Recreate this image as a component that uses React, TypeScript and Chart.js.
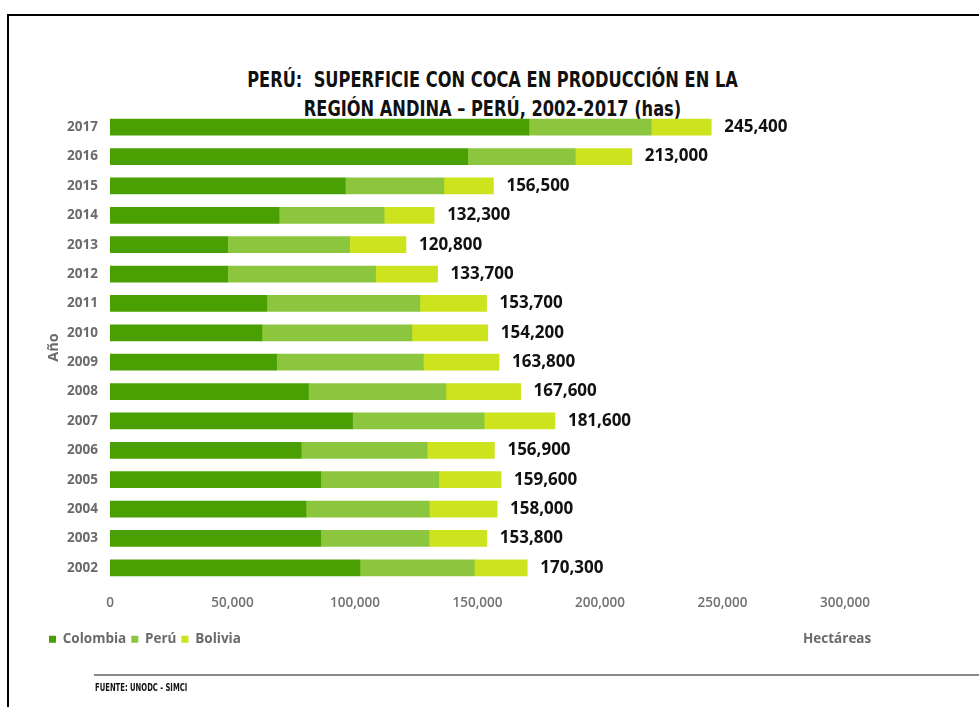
import React, { useEffect, useRef } from 'react';
import { Chart, registerables } from 'chart.js';

Chart.register(...registerables);

const years = ['2017', '2016', '2015', '2014', '2013', '2012', '2011', '2010', '2009', '2008', '2007', '2006', '2005', '2004', '2003', '2002'];
const colombia = [171000, 146000, 96000, 69000, 48000, 48000, 64000, 62000, 68000, 81000, 99000, 78000, 86000, 80000, 86000, 102000];
const peru = [49900, 43900, 40300, 42900, 49800, 60400, 62500, 61200, 59900, 56100, 53700, 51400, 48200, 50300, 44200, 46700];
const bolivia = [24500, 23100, 20200, 20400, 23000, 25300, 27200, 31000, 30900, 30500, 28900, 27500, 25400, 27700, 23600, 21600];
const totalLabels = ['245,400', '213,000', '156,500', '132,300', '120,800', '133,700', '153,700', '154,200', '163,800', '167,600', '181,600', '156,900', '159,600', '158,000', '153,800', '170,300'];
const xTicks = [0, 50000, 100000, 150000, 200000, 250000, 300000];
const seriesNames = ['Colombia', 'Perú', 'Bolivia'];
const seriesColors = ['#4aa002', '#8cc63f', '#cce31e'];

const titleLines = ['PERÚ:  SUPERFICIE CON COCA EN PRODUCCIÓN EN LA', 'REGIÓN ANDINA – PERÚ, 2002-2017 (has)'];
const xTitle = 'Hectáreas';
const yTitle = 'Año';
const sourceText = 'FUENTE: UNODC - SIMCI';

const narrow = '"Liberation Sans Narrow", "DejaVu Sans Condensed", "Arial Narrow", sans-serif';
const sans = '"Open Sans", "Noto Sans", sans-serif';

const totalsPlugin = {
  id: 'totals',
  afterDatasetsDraw(chart: any) {
    const ctx = chart.ctx;
    const meta = chart.getDatasetMeta(chart.data.datasets.length - 1);
    ctx.save();
    ctx.font = 'bold 17px ' + sans;
    ctx.fillStyle = '#111111';
    ctx.textAlign = 'left';
    ctx.textBaseline = 'middle';
    meta.data.forEach((el: any, i: number) => {
      ctx.fillText(totalLabels[i], el.x + 13, el.y);
    });
    ctx.restore();
  },
};

export default function App() {
  const canvasRef = useRef<HTMLCanvasElement | null>(null);

  useEffect(() => {
    if (!canvasRef.current) return;
    const data = [colombia, peru, bolivia];
    const chart = new Chart(canvasRef.current, {
      type: 'bar',
      data: {
        labels: years,
        datasets: seriesNames.map((name, k) => ({
          label: name,
          data: data[k],
          backgroundColor: seriesColors[k],
          borderWidth: 0,
          barThickness: 16,
        })),
      },
      options: {
        indexAxis: 'y',
        animation: false,
        responsive: false,
        maintainAspectRatio: false,
        layout: { padding: { left: 44, right: 134, top: 112.5, bottom: 51 } },
        plugins: {
          title: { display: false },
          tooltip: { enabled: false },
          legend: {
            display: true,
            position: 'bottom',
            align: 'start',
            labels: {
              boxWidth: 7,
              boxHeight: 7,
              padding: 5,
              color: '#6a6a6a',
              font: { family: sans, size: 13.5, weight: 'bold' },
            },
          },
        },
        scales: {
          x: {
            stacked: true,
            min: 0,
            max: 300000,
            grid: { display: false, drawTicks: false },
            border: { display: false },
            afterBuildTicks: (s: any) => {
              s.ticks = xTicks.map((v) => ({ value: v }));
            },
            afterFit: (s: any) => {
              s.height = 45;
            },
            ticks: {
              padding: 13,
              color: '#707070',
              font: { family: sans, size: 13.5, weight: '600' },
              callback: (v: any) => Number(v).toLocaleString('en-US'),
            },
          },
          y: {
            stacked: true,
            grid: { display: false, drawTicks: false },
            border: { display: false },
            afterFit: (s: any) => {
              s.width = 66;
            },
            ticks: {
              padding: 12,
              color: '#6a6a6a',
              font: { family: sans, size: 13.5, weight: 'bold' },
            },
            title: {
              display: true,
              text: yTitle,
              color: '#6a6a6a',
              font: { family: sans, size: 14.5, weight: 'bold' },
              padding: { top: 1, bottom: 0 },
            },
          },
        },
      },
      plugins: [totalsPlugin],
    });
    return () => chart.destroy();
  }, []);

  return (
    <div style={{ position: 'fixed', left: 0, top: 0, width: 979, height: 707, overflow: 'hidden', background: '#ffffff' }}>
      <div style={{ position: 'absolute', left: 7, top: 14, width: 1000, height: 720, border: '2px solid #000', boxSizing: 'border-box' }} />
      <div
        style={{
          position: 'absolute',
          left: 3,
          top: 65,
          width: 979,
          textAlign: 'center',
          fontFamily: narrow,
          fontWeight: 'bold',
          fontSize: 22,
          lineHeight: '29px',
          color: '#111',
          whiteSpace: 'pre',
          transform: 'scaleX(0.82)',
          transformOrigin: '489.5px 0',
        }}
      >
        {titleLines.map((t) => (
          <div key={t}>{t}</div>
        ))}
      </div>
      <canvas ref={canvasRef} width={979} height={707} style={{ position: 'absolute', left: 0, top: 0 }} />
      <div
        style={{
          position: 'absolute',
          left: 803,
          top: 628,
          fontFamily: sans,
          fontWeight: 'bold',
          fontSize: 13.5,
          lineHeight: '20px',
          color: '#6a6a6a',
        }}
      >
        {xTitle}
      </div>
      <div style={{ position: 'absolute', left: 94, top: 674, width: 900, height: 2, background: '#8a8a8a' }} />
      <div
        style={{
          position: 'absolute',
          left: 95,
          top: 681,
          fontFamily: narrow,
          fontWeight: 'bold',
          fontSize: 10,
          lineHeight: '14px',
          color: '#111',
          whiteSpace: 'pre',
          transform: 'scaleX(0.76)',
          transformOrigin: '0 0',
        }}
      >
        {sourceText}
      </div>
    </div>
  );
}
